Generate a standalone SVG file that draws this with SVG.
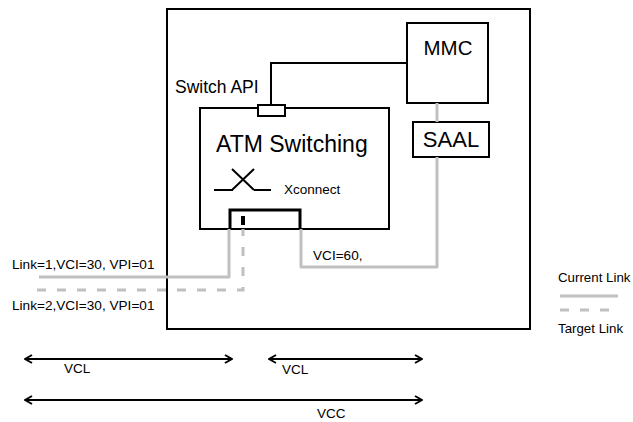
<svg xmlns="http://www.w3.org/2000/svg" width="633" height="422" viewBox="0 0 633 422">
<defs>
<style>
.box{fill:#fff;stroke:#000;stroke-width:2}
.t{font-family:"Liberation Sans",Arial,sans-serif;fill:#000}
.cur{fill:none;stroke:#c0c0c0;stroke-width:3;stroke-linejoin:round}
.tgt{fill:none;stroke:#c0c0c0;stroke-width:3;stroke-dasharray:9 11}
.blk{fill:none;stroke:#000;stroke-width:2}
.arr{fill:none;stroke:#000;stroke-width:2;marker-start:url(#ah);marker-end:url(#ah)}
</style>
<marker id="ah" viewBox="0 0 10 10" refX="9" refY="5" markerWidth="10" markerHeight="10" markerUnits="userSpaceOnUse" orient="auto-start-reverse">
<path d="M2,1 L9,5 L2,9" fill="none" stroke="#000" stroke-width="2"/>
</marker>
</defs>
<g id="outer"><rect class="box" x="167" y="9" width="363" height="320"/></g>
<g id="mmc"><rect class="box" x="407" y="23" width="81" height="80"/><text class="t" x="448" y="55" font-size="20.5" text-anchor="middle">MMC</text></g>
<g id="saal"><rect class="box" x="413" y="122" width="76" height="35"/><text class="t" x="451" y="147" font-size="22" text-anchor="middle">SAAL</text></g>
<g id="atm"><rect class="box" x="200" y="108" width="189" height="121"/><text class="t" x="216" y="152" font-size="23">ATM Switching</text>
<path class="blk" d="M214,190 H233 M254,190 H271 M232,169 L254,190 M232,190 L254,169" stroke-width="1.5"/>
<text class="t" x="284" y="194" font-size="13.5">Xconnect</text>
<path fill="none" stroke="#000" stroke-width="3" d="M230,229 V210 H300 V229"/>
<rect x="241" y="216" width="4" height="9" fill="#000"/>
</g>
<g id="api"><rect class="box" x="258" y="105" width="27" height="11"/><text class="t" x="175" y="93" font-size="17.5">Switch API</text></g>
<g id="connectors">
<path class="blk" d="M407,63 H271 V105"/>
<path class="cur" d="M437,103 V122"/>
<path class="cur" d="M437,157 V267 H301 V229"/>
<path class="cur" d="M229,229 V277 H39"/>
<path class="tgt" d="M243,229 V290 H29" stroke-dashoffset="2"/>
<path class="arr" d="M25,359 H232"/>
<path class="arr" d="M269,359 H422"/>
<path class="arr" d="M25,400 H422"/>
</g>
<g id="labels">
<text class="t" x="12" y="269" font-size="13.6">Link=1,VCI=30, VPI=01</text>
<text class="t" x="12" y="310" font-size="13.6">Link=2,VCI=30, VPI=01</text>
<text class="t" x="313" y="260" font-size="13.6">VCI=60,</text>
<text class="t" x="64" y="373" font-size="13.5">VCL</text>
<text class="t" x="282" y="374" font-size="13.5">VCL</text>
<text class="t" x="317" y="418" font-size="13.5">VCC</text>
</g>
<g id="legend">
<text class="t" x="558" y="282" font-size="13.3">Current Link</text>
<path class="cur" d="M560,296 H618"/>
<path class="tgt" d="M560,310 H618" stroke-dasharray="9 9"/>
<text class="t" x="558" y="333" font-size="13.3">Target Link</text>
</g>
</svg>
